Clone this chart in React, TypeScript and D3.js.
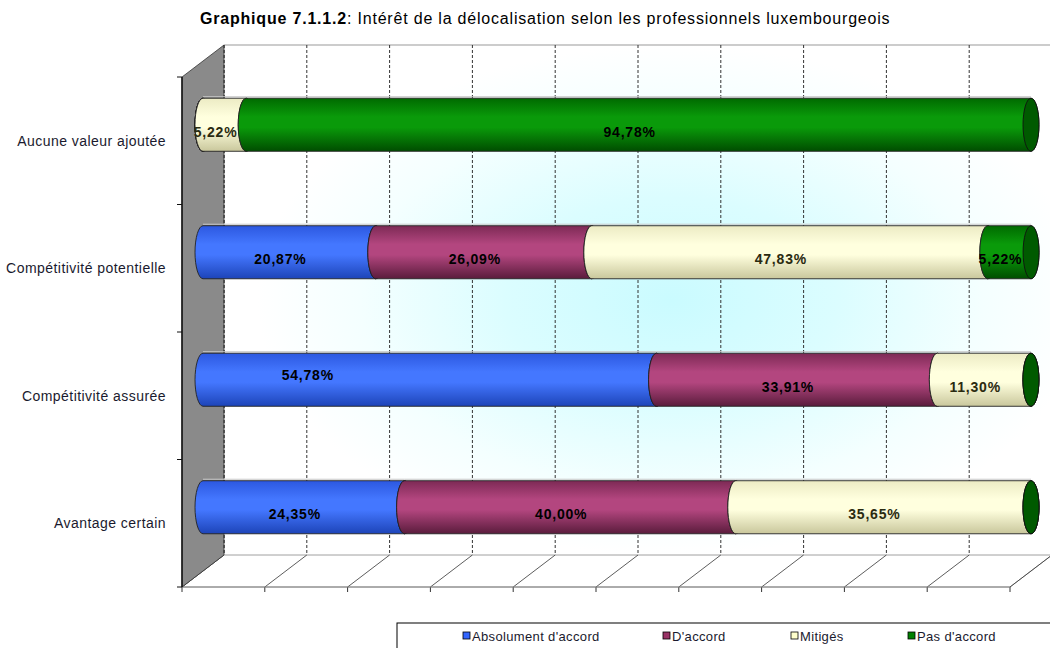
import * as d3 from "d3";

const categories = [
  "Aucune valeur ajoutée",
  "Compétitivité potentielle",
  "Compétitivité assurée",
  "Avantage certain",
];
const seriesNames = ["Absolument d'accord", "D'accord", "Mitigés", "Pas d'accord"];
const absolument = [0, 20.87, 54.78, 24.35];
const daccord = [0, 26.09, 33.91, 40.0];
const mitiges = [5.22, 47.83, 11.3, 35.65];
const pasDaccord = [94.78, 5.22, 0, 0];
const xTicks = [0, 10, 20, 30, 40, 50, 60, 70, 80, 90, 100];

const series = [absolument, daccord, mitiges, pasDaccord];

// top / mid / bottom shade for each cylinder, plus the cap colour
const shades = [
  { top: "#2c58e0", mid: "#4477ff", bot: "#1d44b8", cap: "#2a52c8" },
  { top: "#7d2a55", mid: "#b3467f", bot: "#5a1c3c", cap: "#6e2449" },
  { top: "#ecebc4", mid: "#ffffde", bot: "#c9c79c", cap: "#e6e4b8" },
  { top: "#006a00", mid: "#0a9a0a", bot: "#004d00", cap: "#005a00" },
];
const legendSwatch = ["#3366ff", "#993366", "#ffffcc", "#008000"];

const W = 1050;
const H = 648;
const font = "'Liberation Sans', Arial, sans-serif";

// 3D box geometry
const frontLeft = 182;
const frontTop = 77;
const frontBottom = 587;
const plotW = 828;
const depthX = 42;
const depthY = -32;

// labels that Excel placed off-centre
const labelNudge: Record<string, [number, number]> = {
  "0|Compétitivité assurée": [-113, -12],
};

export default function App() {
  const x = d3.scaleLinear().domain([0, 100]).range([frontLeft, frontLeft + plotW]);
  const y = d3.scaleBand<string>().domain(categories).range([frontTop, frontBottom]);
  const bw = y.bandwidth();
  const ry = bw * 0.208;
  const rx = 8;

  const backTop = frontTop + depthY;
  const backBottom = frontBottom + depthY;
  const backLeft = frontLeft + depthX;
  const backRight = frontLeft + plotW + depthX;

  const cyl = (x0: number, x1: number, cy: number) =>
    `M${x0},${cy - ry}L${x1},${cy - ry}A${rx},${ry} 0 0 1 ${x1},${cy + ry}L${x0},${cy + ry}A${rx},${ry} 0 0 1 ${x0},${cy - ry}Z`;

  const bars = categories.map((cat, ci) => {
    const cy = (y(cat) ?? 0) + bw / 2 + depthY / 2;
    let acc = 0;
    return series.map((s, si) => {
      const v = s[ci];
      const x0 = x(acc) + depthX / 2;
      acc += v;
      const x1 = x(acc) + depthX / 2;
      return { cat, ci, si, v, x0, x1, cy };
    });
  });

  return (
    <svg
      width={W}
      height={H}
      style={{ position: "absolute", left: 0, top: 0, background: "#fff" }}
      fontFamily={font}
    >
      <defs>
        <radialGradient id="wallGlow" cx="0.54" cy="0.5" r="0.5">
          <stop offset="0" stopColor="#cafbff" />
          <stop offset="0.4" stopColor="#dbfdff" />
          <stop offset="0.75" stopColor="#f4ffff" />
          <stop offset="1" stopColor="#ffffff" />
        </radialGradient>
        {shades.map((c, i) => (
          <linearGradient key={i} id={`cyl${i}`} x1="0" y1="0" x2="0" y2="1">
            <stop offset="0" stopColor={c.top} />
            <stop offset="0.35" stopColor={c.mid} />
            <stop offset="0.55" stopColor={c.mid} />
            <stop offset="1" stopColor={c.bot} />
          </linearGradient>
        ))}
      </defs>

      {/* title */}
      <text x={200} y={24} fontSize={16} letterSpacing={0.8} fill="#000">
        <tspan fontWeight="bold">Graphique 7.1.1.2</tspan>
        <tspan>: Intérêt de la délocalisation selon les professionnels luxembourgeois</tspan>
      </text>

      {/* back wall */}
      <rect x={backLeft} y={backTop} width={backRight - backLeft} height={backBottom - backTop} fill="url(#wallGlow)" />
      <line x1={backLeft} y1={backTop} x2={backRight} y2={backTop} stroke="#999" />

      {/* floor */}
      <polygon
        points={`${frontLeft},${frontBottom} ${backLeft},${backBottom} ${backRight},${backBottom} ${frontLeft + plotW},${frontBottom}`}
        fill="#fff"
        stroke="#a0a0a0"
      />
      {xTicks.map((t) => (
        <g key={t}>
          <line x1={x(t)} y1={frontBottom} x2={x(t) + depthX} y2={backBottom} stroke="#333" strokeWidth={0.8} />
          <line x1={x(t) + depthX} y1={backTop} x2={x(t) + depthX} y2={backBottom} stroke="#333" strokeWidth={1} strokeDasharray="3,2" />
          <line x1={x(t)} y1={frontBottom} x2={x(t)} y2={frontBottom + 5} stroke="#333" />
        </g>
      ))}
      <line x1={frontLeft} y1={frontBottom} x2={frontLeft + plotW} y2={frontBottom} stroke="#888" />

      {/* left wall */}
      <polygon
        points={`${frontLeft},${frontTop} ${backLeft},${backTop} ${backLeft},${backBottom} ${frontLeft},${frontBottom}`}
        fill="#8a8a8a"
        stroke="#333"
        strokeWidth={0.8}
      />
      <line x1={backLeft} y1={backTop} x2={backLeft} y2={backBottom} stroke="#333" strokeDasharray="3,2" />
      <line x1={frontLeft} y1={frontTop} x2={frontLeft} y2={frontBottom} stroke="#111" strokeWidth={1.5} />
      {[...categories.map((c) => y(c) ?? 0), frontBottom].map((v, i) => (
        <line key={i} x1={frontLeft - 5} y1={v} x2={frontLeft} y2={v} stroke="#111" />
      ))}

      {/* category labels */}
      {categories.map((c) => (
        <text
          key={c}
          x={166}
          y={(y(c) ?? 0) + bw / 2}
          textAnchor="end"
          dominantBaseline="central"
          fontSize={14}
          letterSpacing={0.45}
          fill="#1a1a2e"
        >
          {c}
        </text>
      ))}

      {/* cylinders */}
      {bars.map((row, ri) => (
        <g key={ri}>
          {row.map((b) => (
            <g key={b.si}>
              <line x1={b.x0} y1={b.cy - ry - 1.5} x2={b.x1} y2={b.cy - ry - 1.5} stroke="#c8c8c8" />
              <path d={cyl(b.x0, b.x1, b.cy)} fill={`url(#cyl${b.si})`} stroke="#222" strokeWidth={0.9} />
              <ellipse cx={b.x1} cy={b.cy} rx={rx} ry={ry} fill={shades[b.si].cap} stroke="#111" strokeWidth={0.9} />
            </g>
          ))}
          {row
            .filter((b) => b.v > 0)
            .map((b) => {
              const n = labelNudge[`${b.si}|${b.cat}`] ?? [0, 0];
              return (
                <text
                  key={`l${b.si}`}
                  x={(b.x0 + b.x1) / 2 - 9 + n[0]}
                  y={b.cy + 7 + n[1]}
                  textAnchor="middle"
                  dominantBaseline="central"
                  fontSize={14}
                  fontWeight="bold"
                  letterSpacing={0.8}
                  fill={b.si === 2 ? "#2a2a10" : "#000"}
                >
                  {b.v.toFixed(2).replace(".", ",")}%
                </text>
              );
            })}
        </g>
      ))}

      {/* legend */}
      <rect x={397} y={623} width={700} height={60} fill="#fff" stroke="#000" />
      {seriesNames.map((name, i) => {
        const lx = [463, 663, 791, 908][i];
        return (
          <g key={name}>
            <rect x={lx} y={632} width={7} height={7} fill={legendSwatch[i]} stroke="#000" strokeWidth={0.8} />
            <text x={lx + 9} y={636} dominantBaseline="central" fontSize={13} letterSpacing={0.35} fill="#1a1a2e">
              {name}
            </text>
          </g>
        );
      })}
    </svg>
  );
}
